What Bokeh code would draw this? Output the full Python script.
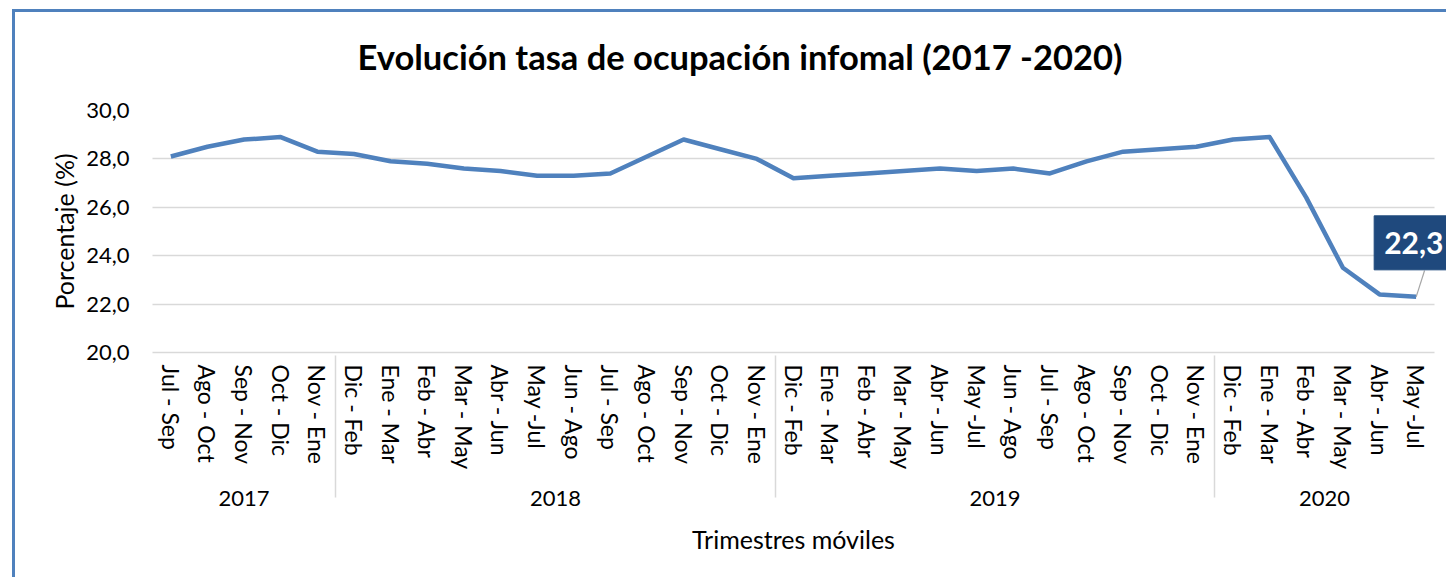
from bokeh.plotting import figure
from bokeh.models import ColumnDataSource, FactorRange, Range1d, FixedTicker, Label, Grid, Title
from bokeh.embed import file_html
from bokeh.resources import INLINE

# ---------------- data ----------------
years = ["2017"] * 5 + ["2018"] * 12 + ["2019"] * 12 + ["2020"] * 6
periods = [
    "Jul - Sep", "Ago - Oct", "Sep - Nov", "Oct - Dic", "Nov - Ene",
    "Dic - Feb", "Ene - Mar", "Feb - Abr", "Mar - May", "Abr - Jun", "May -Jul",
    "Jun - Ago", "Jul - Sep", "Ago - Oct", "Sep - Nov", "Oct - Dic", "Nov - Ene",
    "Dic - Feb", "Ene - Mar", "Feb - Abr", "Mar - May", "Abr - Jun", "May -Jul",
    "Jun - Ago", "Jul - Sep", "Ago - Oct", "Sep - Nov", "Oct - Dic", "Nov - Ene",
    "Dic - Feb", "Ene - Mar", "Feb - Abr", "Mar - May", "Abr - Jun", "May -Jul",
]
values = [
    28.1, 28.5, 28.8, 28.9, 28.3,
    28.2, 27.9, 27.8, 27.6, 27.5, 27.3, 27.3, 27.4, 28.1, 28.8, 28.4, 28.0,
    27.2, 27.3, 27.4, 27.5, 27.6, 27.5, 27.6, 27.4, 27.9, 28.3, 28.4, 28.5,
    28.8, 28.9, 26.4, 23.5, 22.4, 22.3,
]
y_ticks = [20, 22, 24, 26, 28, 30]

title_text = "Evolución tasa de ocupación infomal (2017 -2020)"
x_title = "Trimestres móviles"
y_title = "Porcentaje (%)"

# ---------------- figure ----------------
# a blank middle level only adds vertical room between the two label rows
spacer = [" "] * len(periods)
factors = list(zip(years, spacer, periods))
n = len(factors)
source = ColumnDataSource(dict(x=factors, y=values))

FONT = "Lato"
BLUE = "#4F81BD"
GRID = "#D9D9D9"

W, H = 1434, 568
p = figure(
    x_range=FactorRange(*factors, factor_padding=0, group_padding=0,
                        subgroup_padding=0, range_padding=0.41,
                        range_padding_units="absolute"),
    y_range=Range1d(20, 30),
    width=W, height=H,
    output_backend="svg", toolbar_location=None,
    min_border_left=122, min_border_right=0,
    min_border_top=98, min_border_bottom=228,
    title=title_text,
)
p.styles = {
    "border-left": f"3px solid {BLUE}",
    "border-top": f"3px solid {BLUE}",
    "margin-left": "12px",
    "margin-top": "9px",
}

p.outline_line_color = None
p.background_fill_color = "white"
p.border_fill_color = "white"

# title
p.title.text_font = FONT
p.title.text_font_size = "34.5px"
p.title.text_font_style = "bold"
p.title.text_color = "black"
p.title.align = "left"
p.title.vertical_align = "top"
p.title.offset = 220
if "padding" in Title.properties():
    p.title.padding = dict(left=0, right=0, top=0, bottom=10)
    p.title.standoff = 44
else:
    p.title.standoff = 54

# grids
p.xgrid.grid_line_color = None
p.ygrid.grid_line_color = GRID
p.ygrid.grid_line_width = 1.5
p.ygrid.ticker = FixedTicker(ticks=y_ticks)
if "cross_bounds" in Grid.properties():
    p.ygrid.cross_bounds = (0, n)

# y axis
p.yaxis.ticker = FixedTicker(ticks=y_ticks)
p.yaxis.major_label_overrides = {t: f"{t:.1f}".replace(".", ",") for t in y_ticks}
p.yaxis.axis_line_color = None
p.yaxis.major_tick_line_color = None
p.yaxis.minor_tick_line_color = None
p.yaxis.major_label_standoff = 2
p.yaxis.major_label_text_font = FONT
p.yaxis.major_label_text_font_size = "22px"
p.yaxis.major_label_text_color = "black"
p.yaxis.axis_label = y_title
p.yaxis.axis_label_text_font = FONT
p.yaxis.axis_label_text_font_size = "25px"
p.yaxis.axis_label_text_font_style = "normal"
p.yaxis.axis_label_text_color = "black"
p.yaxis.axis_label_standoff = 4

# x axis
p.xaxis.bounds = (0, n)
p.xaxis.axis_line_color = GRID
p.xaxis.axis_line_width = 1.5
p.xaxis.major_tick_line_color = None
p.xaxis.minor_tick_line_color = None
p.xaxis.major_label_orientation = "vertical"
p.xaxis.major_label_standoff = 6
p.xaxis.major_label_text_font = FONT
p.xaxis.major_label_text_font_size = "23px"
p.xaxis.major_label_text_color = "black"
p.xaxis.subgroup_text_font = FONT
p.xaxis.subgroup_text_font_size = "3px"
p.xaxis.subgroup_label_orientation = "horizontal"
p.xaxis.group_text_font = FONT
p.xaxis.group_text_font_size = "22px"
p.xaxis.group_text_color = "black"
p.xaxis.group_text_font_style = "normal"
p.xaxis.separator_line_color = GRID
p.xaxis.separator_line_width = 1.5
p.xaxis.axis_label = x_title
p.xaxis.axis_label_text_font = FONT
p.xaxis.axis_label_text_font_size = "25px"
p.xaxis.axis_label_text_font_style = "normal"
p.xaxis.axis_label_text_color = "black"
p.xaxis.axis_label_standoff = 15

# line
p.line(x="x", y="y", source=source, line_width=4.5, line_color=BLUE,
       line_join="round")

# leader line from the last point to its data label
p.segment(x0=[factors[-1]], y0=[values[-1]],
          x1=[(*factors[-1], 0.23)], y1=[values[-1] + 1.09],
          line_color="#A6A6A6", line_width=1.2)

# data label for the last point (synthetic centre of the last category)
lab_kw = dict(
    x=n - 0.5, y=values[-1],
    text=f"{values[-1]:.1f}".replace(".", ","),
    x_offset=-42, y_offset=54,
    text_font=FONT, text_font_size="30px", text_font_style="bold",
    text_color="white", text_align="left", text_baseline="middle",
    background_fill_color="#1F497D", border_line_color="#1F497D",
)
if "padding" in Label.properties():
    lab_kw["padding"] = (10, 16)
p.add_layout(Label(**lab_kw))

open("out.html", "w").write(file_html(p, INLINE))
